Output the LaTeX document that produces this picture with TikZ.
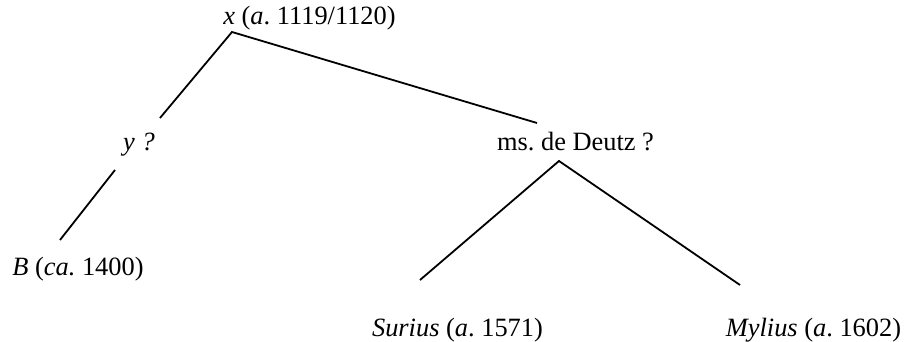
\documentclass[tikz,border=0pt]{standalone}
\usepackage{fontspec}
\setmainfont{Liberation Serif}
\frenchspacing

\begin{document}
\begin{tikzpicture}[x=0.5pt,y=-0.5pt,
  witness/.style={anchor=base,inner sep=0pt,font=\fontsize{13.2}{15}\selectfont},
  stemma/.style={line width=0.9pt}]

\useasboundingbox (0,0) rectangle (912,342);

% manuscripts
\node[witness] (archx)   at (309.5,25)  {\textit{x} (\textit{a}. 1119/1120)};
\node[witness] (archy)   at (139,151)   {\textit{y ?}};
\node[witness] (deutz)   at (575.5,151) {ms. de Deutz ?};
\node[witness] (codB)    at (78,276)    {\textit{B} (\textit{ca.} 1400)};
\node[witness] (surius)  at (457.5,336) {\textit{Surius} (\textit{a}. 1571)};
\node[witness] (mylius)  at (813.5,336) {\textit{Mylius} (\textit{a}. 1602)};

% ends of the branches
\coordinate (xtop)   at (232,32);
\coordinate (yup)    at (160,118);
\coordinate (ydown)  at (115,170);
\coordinate (Bup)    at (60,240);
\coordinate (dup)    at (537,123);
\coordinate (dtop)   at (559,161);
\coordinate (surup)  at (420,280);
\coordinate (mylup)  at (740,285);

% branches
\draw[stemma] (yup) -- (xtop) -- (dup);
\draw[stemma] (ydown) -- (Bup);
\draw[stemma] (surup) -- (dtop) -- (mylup);

\end{tikzpicture}
\end{document}
